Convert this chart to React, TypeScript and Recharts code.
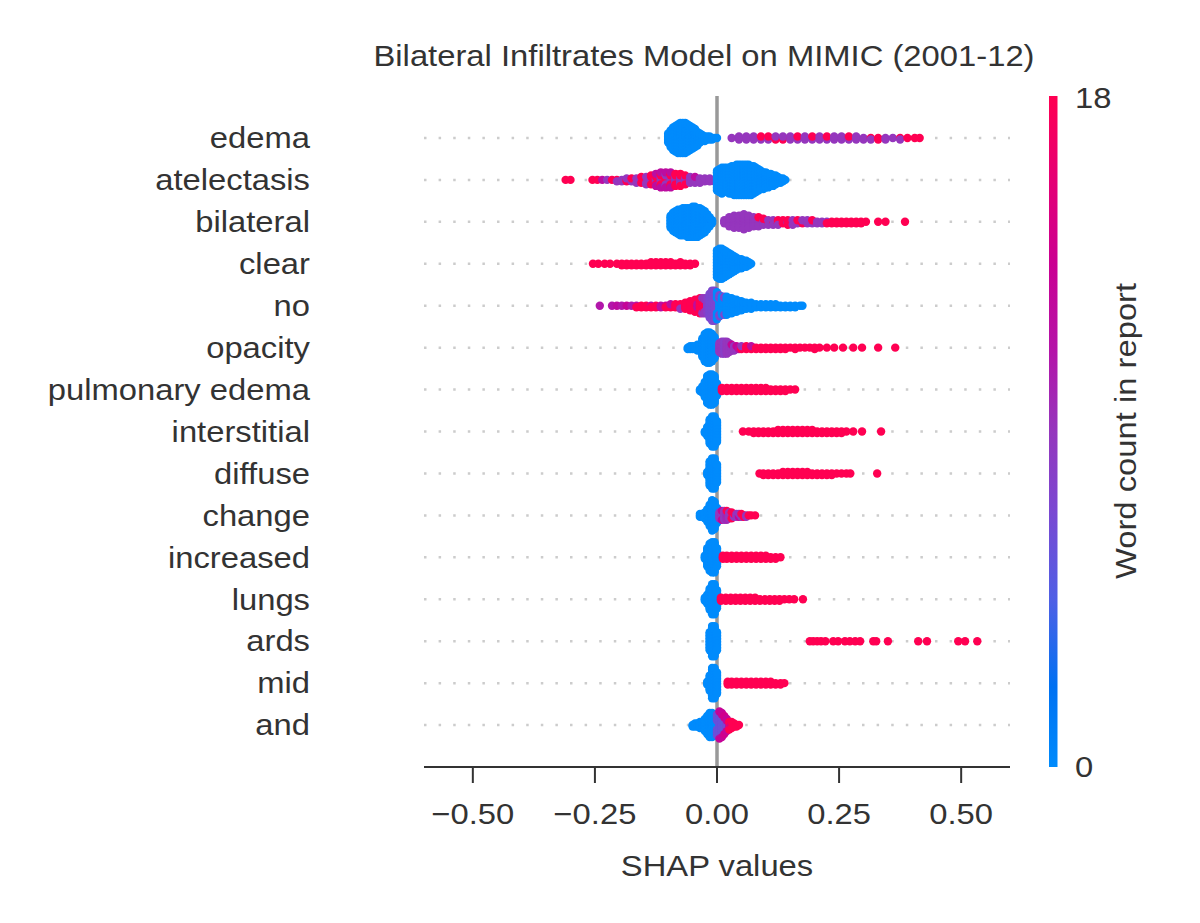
import React from 'react'
import { ScatterChart, Scatter, XAxis, YAxis, ReferenceLine } from 'recharts'

// [SHAP value, dots stacked in that bin, word count in report]
type Bin = [number, number, number]

const features = [
  'edema', 'atelectasis', 'bilateral', 'clear', 'no', 'opacity', 'pulmonary edema',
  'interstitial', 'diffuse', 'change', 'increased', 'lungs', 'ards', 'mid', 'and',
]
const xTicks = [-0.5, -0.25, 0, 0.25, 0.5]
const rowTicks = features.map((_, i) => i)

const edema: Bin[] = [
  [-0.1, 7, 0], [-0.095, 12, 0], [-0.09, 16, 0], [-0.085, 18, 0], [-0.08, 20, 0], [-0.075, 21, 0],
  [-0.07, 21, 0], [-0.065, 21, 0], [-0.06, 19, 0], [-0.055, 17, 0], [-0.05, 15, 0], [-0.045, 13, 0],
  [-0.04, 10, 0], [-0.035, 7, 0], [-0.03, 5, 0], [-0.025, 4, 0], [-0.02, 3, 0], [-0.015, 3, 0],
  [-0.01, 2, 0], [-0.005, 1, 0], [0.0, 1, 0],
  [0.03, 1, 9], [0.045, 3, 9], [0.06, 3, 9], [0.075, 3, 9], [0.09, 2, 9], [0.09, 1, 18],
  [0.105, 2, 9], [0.105, 1, 18], [0.12, 2, 18], [0.12, 1, 9], [0.135, 2, 18], [0.135, 1, 9],
  [0.15, 1, 18], [0.15, 2, 9], [0.165, 2, 9], [0.165, 1, 18], [0.18, 3, 9], [0.195, 2, 9],
  [0.195, 1, 18], [0.21, 1, 18], [0.21, 2, 9], [0.225, 2, 9], [0.225, 1, 18], [0.24, 3, 9],
  [0.255, 3, 9], [0.27, 2, 9], [0.27, 1, 18], [0.285, 3, 9], [0.3, 2, 9], [0.315, 1, 18],
  [0.315, 1, 9], [0.33, 2, 18], [0.345, 2, 9], [0.36, 1, 9], [0.375, 1, 18], [0.375, 1, 9],
  [0.39, 1, 18], [0.405, 1, 18], [0.415, 1, 18],
]

const atelectasis: Bin[] = [
  [-0.31, 1, 18], [-0.3, 1, 18], [-0.255, 1, 18], [-0.245, 1, 18], [-0.235, 1, 12], [-0.225, 1, 9],
  [-0.215, 1, 18], [-0.205, 1, 18], [-0.205, 1, 9], [-0.195, 2, 9], [-0.185, 2, 18], [-0.185, 1, 9],
  [-0.175, 2, 9], [-0.175, 1, 18], [-0.165, 2, 18], [-0.165, 2, 9], [-0.155, 3, 9], [-0.155, 2, 18],
  [-0.145, 3, 18], [-0.145, 3, 9], [-0.135, 4, 9], [-0.135, 3, 18], [-0.125, 4, 9], [-0.125, 3, 18],
  [-0.125, 2, 12], [-0.115, 5, 9], [-0.115, 4, 18], [-0.115, 2, 12], [-0.105, 5, 18], [-0.105, 4, 9],
  [-0.105, 2, 12], [-0.095, 5, 9], [-0.095, 4, 18], [-0.095, 2, 12], [-0.085, 5, 9], [-0.085, 4, 18],
  [-0.075, 6, 9], [-0.075, 3, 18], [-0.065, 5, 9], [-0.065, 2, 18], [-0.055, 5, 9], [-0.045, 4, 9],
  [-0.045, 1, 12], [-0.035, 4, 9], [-0.025, 3, 9], [-0.015, 3, 9], [-0.005, 2, 9],
  [0.0, 14, 0], [0.005, 16, 0], [0.01, 18, 0], [0.015, 17, 0], [0.02, 17, 0], [0.025, 18, 0],
  [0.03, 19, 0], [0.035, 20, 0], [0.04, 21, 0], [0.045, 21, 0], [0.05, 21, 0], [0.055, 21, 0],
  [0.06, 21, 0], [0.065, 21, 0], [0.07, 20, 0], [0.075, 19, 0], [0.08, 17, 0], [0.085, 15, 0],
  [0.09, 13, 0], [0.095, 12, 0], [0.1, 11, 0], [0.105, 10, 0], [0.11, 9, 0], [0.115, 8, 0],
  [0.12, 7, 0], [0.125, 5, 0], [0.13, 4, 0], [0.135, 3, 0], [0.14, 1, 0],
]

const bilateral: Bin[] = [
  [-0.095, 9, 0], [-0.09, 13, 0], [-0.085, 15, 0], [-0.08, 17, 0], [-0.075, 18, 0], [-0.07, 19, 0],
  [-0.065, 19, 0], [-0.06, 20, 0], [-0.055, 20, 0], [-0.05, 21, 0], [-0.045, 21, 0], [-0.04, 20, 0],
  [-0.035, 19, 0], [-0.03, 17, 0], [-0.025, 15, 0], [-0.02, 11, 0], [-0.015, 7, 0], [-0.01, 3, 0],
  [0.015, 3, 9], [0.025, 7, 9], [0.035, 9, 9], [0.045, 9, 9], [0.055, 11, 9], [0.065, 9, 9],
  [0.075, 7, 9], [0.085, 6, 9], [0.085, 1, 18], [0.095, 4, 9], [0.095, 1, 18], [0.105, 2, 18],
  [0.105, 2, 9], [0.115, 2, 18], [0.115, 2, 9], [0.125, 3, 18], [0.125, 1, 9], [0.135, 3, 18],
  [0.145, 2, 9], [0.145, 2, 18], [0.155, 2, 18], [0.155, 2, 9], [0.165, 2, 9], [0.165, 1, 18],
  [0.175, 2, 18], [0.175, 1, 9], [0.185, 3, 9], [0.195, 2, 9], [0.195, 1, 18], [0.205, 2, 9],
  [0.215, 2, 9], [0.225, 1, 9], [0.225, 1, 18], [0.235, 2, 18], [0.245, 2, 18], [0.255, 2, 18],
  [0.265, 2, 18], [0.275, 2, 18], [0.285, 2, 18], [0.295, 2, 18], [0.305, 1, 18], [0.33, 1, 18],
  [0.345, 1, 18], [0.385, 1, 18],
]

const clear: Bin[] = [
  [-0.254, 1, 18], [-0.243, 1, 18], [-0.23, 1, 18], [-0.219, 1, 18], [-0.205, 1, 18], [-0.195, 2, 18],
  [-0.185, 2, 18], [-0.175, 2, 18], [-0.165, 2, 18], [-0.155, 2, 18], [-0.145, 2, 18], [-0.135, 3, 18],
  [-0.125, 3, 18], [-0.115, 3, 18], [-0.105, 3, 18], [-0.095, 3, 18], [-0.085, 2, 18], [-0.075, 3, 18],
  [-0.065, 2, 18], [-0.055, 2, 18], [-0.045, 1, 18],
  [0.0, 19, 0], [0.005, 21, 0], [0.01, 21, 0], [0.015, 19, 0], [0.02, 17, 0], [0.025, 15, 0],
  [0.03, 13, 0], [0.035, 11, 0], [0.04, 9, 0], [0.045, 7, 0], [0.05, 7, 0], [0.055, 5, 0],
  [0.06, 5, 0], [0.065, 3, 0], [0.07, 1, 0],
]

const no: Bin[] = [
  [-0.24, 1, 11], [-0.215, 1, 11], [-0.205, 1, 12], [-0.195, 1, 11], [-0.185, 1, 13], [-0.175, 1, 11],
  [-0.165, 1, 12], [-0.165, 1, 18], [-0.155, 2, 18], [-0.145, 2, 18], [-0.135, 1, 12], [-0.135, 1, 18],
  [-0.125, 2, 18], [-0.115, 2, 12], [-0.105, 1, 14], [-0.105, 1, 18], [-0.095, 2, 18], [-0.095, 1, 12],
  [-0.085, 3, 18], [-0.075, 3, 18], [-0.075, 1, 9], [-0.065, 5, 18], [-0.055, 7, 18], [-0.045, 9, 18],
  [-0.04, 3, 12], [-0.035, 11, 18], [-0.03, 9, 18], [-0.03, 2, 9], [-0.025, 7, 18], [-0.025, 4, 9],
  [-0.02, 11, 8], [-0.015, 17, 7], [-0.01, 21, 7], [-0.005, 21, 7], [0.0, 9, 7], [0.0, 10, 0],
  [0.005, 10, 0], [0.005, 5, 7], [0.01, 13, 0], [0.015, 10, 0], [0.015, 3, 7], [0.02, 13, 0],
  [0.025, 11, 0], [0.03, 11, 0], [0.035, 9, 0], [0.04, 9, 0], [0.045, 7, 0], [0.05, 7, 0],
  [0.055, 5, 0], [0.06, 5, 0], [0.07, 5, 0], [0.08, 3, 0], [0.09, 3, 0], [0.1, 3, 0], [0.11, 3, 0],
  [0.12, 3, 0], [0.13, 2, 0], [0.14, 2, 0], [0.15, 2, 0], [0.16, 2, 0], [0.17, 1, 0], [0.175, 1, 0],
]

const opacity: Bin[] = [
  [-0.06, 2, 0], [-0.055, 3, 0], [-0.05, 3, 0], [-0.045, 3, 0], [-0.04, 5, 0], [-0.035, 5, 0],
  [-0.03, 13, 0], [-0.025, 19, 0], [-0.02, 21, 0], [-0.015, 21, 0], [-0.01, 19, 0], [-0.005, 15, 0],
  [0.0, 7, 0],
  [0.005, 7, 9], [0.01, 9, 9], [0.015, 9, 8], [0.02, 9, 9], [0.025, 7, 9], [0.03, 4, 9], [0.03, 1, 13],
  [0.035, 4, 9], [0.04, 2, 9], [0.04, 1, 13], [0.045, 2, 12], [0.05, 2, 18], [0.05, 1, 9],
  [0.06, 3, 18], [0.07, 2, 18], [0.07, 1, 12], [0.08, 2, 18], [0.09, 2, 18], [0.1, 2, 18],
  [0.11, 2, 18], [0.12, 2, 18], [0.13, 2, 18], [0.14, 2, 18], [0.15, 1, 18], [0.16, 2, 18],
  [0.17, 1, 18], [0.18, 1, 18], [0.19, 1, 18], [0.2, 2, 18], [0.21, 1, 18], [0.225, 1, 18],
  [0.24, 1, 18], [0.258, 1, 18], [0.279, 1, 18], [0.297, 1, 18], [0.33, 1, 18], [0.365, 1, 18],
]

const pulmonaryEdema: Bin[] = [
  [-0.035, 2, 0], [-0.03, 5, 0], [-0.025, 11, 0], [-0.02, 19, 0], [-0.015, 21, 0], [-0.01, 21, 0],
  [-0.005, 19, 0], [0.0, 9, 0],
  [0.01, 3, 18], [0.02, 3, 18], [0.03, 3, 18], [0.04, 3, 18], [0.05, 3, 18], [0.06, 3, 18],
  [0.07, 3, 18], [0.08, 3, 18], [0.09, 3, 18], [0.1, 3, 18], [0.11, 2, 18], [0.12, 2, 18],
  [0.13, 2, 18], [0.14, 2, 18], [0.15, 1, 18], [0.16, 1, 18],
]

const interstitial: Bin[] = [
  [-0.025, 2, 0], [-0.02, 7, 0], [-0.015, 17, 0], [-0.01, 21, 0], [-0.005, 21, 0], [0.0, 15, 0],
  [0.053, 1, 18], [0.065, 1, 18], [0.075, 2, 18], [0.085, 2, 18], [0.095, 2, 18], [0.105, 2, 18],
  [0.115, 2, 18], [0.125, 3, 18], [0.135, 3, 18], [0.145, 3, 18], [0.155, 3, 18], [0.165, 3, 18],
  [0.175, 3, 18], [0.185, 3, 18], [0.195, 3, 18], [0.205, 2, 18], [0.215, 2, 18], [0.225, 2, 18],
  [0.235, 2, 18], [0.245, 2, 18], [0.255, 2, 18], [0.265, 1, 18], [0.279, 1, 18], [0.297, 1, 18],
  [0.336, 1, 18],
]

const diffuse: Bin[] = [
  [-0.02, 3, 0], [-0.015, 17, 0], [-0.01, 21, 0], [-0.005, 21, 0], [0.0, 13, 0],
  [0.087, 1, 18], [0.095, 2, 18], [0.105, 2, 18], [0.115, 2, 18], [0.125, 2, 18], [0.135, 3, 18],
  [0.145, 3, 18], [0.155, 3, 18], [0.165, 3, 18], [0.175, 3, 18], [0.185, 3, 18], [0.195, 2, 18],
  [0.205, 2, 18], [0.215, 2, 18], [0.225, 2, 18], [0.235, 2, 18], [0.245, 1, 18], [0.255, 1, 18],
  [0.265, 1, 18], [0.273, 1, 18], [0.328, 1, 18],
]

const change: Bin[] = [
  [-0.035, 3, 0], [-0.03, 3, 0], [-0.025, 5, 0], [-0.02, 9, 0], [-0.015, 15, 0], [-0.01, 21, 0],
  [-0.005, 19, 0], [0.0, 11, 0],
  [0.005, 5, 9], [0.01, 5, 9], [0.01, 2, 13], [0.015, 7, 9], [0.02, 6, 10], [0.02, 1, 18],
  [0.025, 5, 9], [0.03, 3, 9], [0.03, 2, 18], [0.035, 2, 9], [0.035, 1, 18], [0.04, 3, 9],
  [0.045, 2, 13], [0.045, 1, 9], [0.05, 2, 9], [0.05, 1, 18], [0.055, 2, 18], [0.06, 2, 9],
  [0.065, 1, 18], [0.07, 1, 18], [0.078, 1, 18],
]

const increased: Bin[] = [
  [-0.025, 3, 0], [-0.02, 13, 0], [-0.015, 19, 0], [-0.01, 21, 0], [-0.005, 21, 0], [0.0, 13, 0],
  [0.012, 3, 18], [0.02, 3, 18], [0.03, 3, 18], [0.04, 3, 18], [0.05, 3, 18], [0.06, 3, 18],
  [0.07, 3, 18], [0.08, 3, 18], [0.09, 3, 18], [0.1, 3, 18], [0.11, 2, 18], [0.12, 2, 18],
  [0.13, 1, 18],
]

const lungs: Bin[] = [
  [-0.025, 3, 0], [-0.02, 7, 0], [-0.015, 15, 0], [-0.01, 21, 0], [-0.005, 21, 0], [0.0, 13, 0],
  [0.008, 3, 18], [0.018, 3, 18], [0.028, 3, 18], [0.038, 3, 18], [0.048, 3, 18], [0.058, 3, 18],
  [0.068, 3, 18], [0.078, 3, 18], [0.088, 2, 18], [0.098, 2, 18], [0.108, 2, 18], [0.118, 2, 18],
  [0.128, 2, 18], [0.138, 1, 18], [0.148, 1, 18], [0.158, 1, 18], [0.176, 1, 18],
]

const ards: Bin[] = [
  [-0.015, 13, 0], [-0.01, 21, 0], [-0.005, 21, 0], [0.0, 13, 0],
  [0.19, 1, 18], [0.197, 1, 18], [0.205, 1, 18], [0.213, 1, 18], [0.222, 1, 18], [0.238, 1, 18],
  [0.248, 1, 18], [0.262, 1, 18], [0.272, 1, 18], [0.283, 1, 18], [0.293, 1, 18], [0.32, 1, 18],
  [0.326, 1, 18], [0.35, 1, 18], [0.412, 1, 18], [0.43, 1, 18], [0.494, 1, 18], [0.508, 1, 18],
  [0.533, 1, 18],
]

const mid: Bin[] = [
  [-0.02, 3, 0], [-0.015, 11, 0], [-0.01, 21, 0], [-0.005, 21, 0], [0.0, 15, 0],
  [0.022, 3, 18], [0.03, 3, 18], [0.04, 3, 18], [0.05, 3, 18], [0.06, 3, 18], [0.07, 3, 18],
  [0.08, 3, 18], [0.09, 3, 18], [0.1, 3, 18], [0.11, 3, 18], [0.12, 2, 18], [0.13, 2, 18],
  [0.138, 1, 18],
]

const and: Bin[] = [
  [-0.05, 2, 0], [-0.045, 3, 0], [-0.04, 3, 0], [-0.035, 5, 0], [-0.03, 5, 0], [-0.025, 9, 0],
  [-0.02, 13, 0], [-0.015, 17, 0], [-0.01, 17, 0], [-0.005, 15, 0], [0.0, 5, 0], [0.0, 10, 6],
  [0.005, 17, 6], [0.005, 2, 13], [0.01, 14, 6], [0.01, 3, 13], [0.015, 10, 6], [0.015, 3, 14],
  [0.02, 6, 7], [0.02, 3, 13], [0.025, 4, 12], [0.025, 2, 18], [0.03, 3, 14], [0.03, 2, 18],
  [0.035, 3, 18], [0.04, 2, 18], [0.045, 1, 18],
]

const rows = [
  edema, atelectasis, bilateral, clear, no, opacity, pulmonaryEdema,
  interstitial, diffuse, change, increased, lungs, ards, mid, and,
]

// beeswarm: dots sharing a bin are stacked alternately above / below the row
const LAYER = 0.036
const points = rows.flatMap((bins, r) => {
  const used = new Map<number, number>()
  const out: { x: number; y: number; c: number }[] = []
  for (const [x, n, c] of bins) {
    for (let k = 0; k < n; k++) {
      const j = used.get(x) ?? 0
      used.set(x, j + 1)
      const layer = Math.ceil(j / 2) * (j % 2 ? 1 : -1)
      out.push({ x, y: r + layer * LAYER, c })
    }
  }
  return out
})

const MAX_COUNT = 18
const STOPS: [number, number[]][] = [
  [0, [0, 139, 252]],
  [0.12, [0, 113, 242]],
  [0.25, [79, 95, 229]],
  [0.38, [122, 72, 210]],
  [0.5, [149, 54, 189]],
  [0.62, [180, 20, 168]],
  [0.75, [202, 0, 146]],
  [0.87, [228, 0, 118]],
  [1, [255, 0, 82]],
]

function colorAt(t: number) {
  for (let i = 1; i < STOPS.length; i++) {
    const [t1, c1] = STOPS[i]
    const [t0, c0] = STOPS[i - 1]
    if (t <= t1) {
      const f = (t - t0) / (t1 - t0)
      const rgb = c0.map((v, k) => Math.round(v + (c1[k] - v) * f))
      return `rgb(${rgb.join(',')})`
    }
  }
  return 'rgb(255,0,82)'
}

const FONT = '"Liberation Sans", Arial, sans-serif'
const SX = 1.13
const TEXT = '#333333'

const fmt = (v: number) => (v < 0 ? '\u2212' : '') + Math.abs(v).toFixed(2)

const XTick = (p: any) => (
  <g transform={`translate(${p.x},${p.y})`}>
    <text transform={`scale(${SX},1)`} textAnchor="middle" dy="0.71em" fontSize={29} fill={TEXT} fontFamily={FONT}>
      {fmt(p.payload.value)}
    </text>
  </g>
)

const YTick = (p: any) => (
  <g transform={`translate(${p.x},${p.y})`}>
    <text transform={`scale(${SX},1)`} textAnchor="end" dy="0.355em" fontSize={29} fill={TEXT} fontFamily={FONT}>
      {features[p.payload.value]}
    </text>
  </g>
)

const Dot = (p: any) => <circle cx={p.cx} cy={p.cy} r={4.2} fill={colorAt(p.payload.c / MAX_COUNT)} />

function Words({ x, y, anchor = 'middle', rotate = 0, children }: any) {
  return (
    <text
      transform={`translate(${x},${y}) rotate(${rotate}) scale(${SX},1)`}
      textAnchor={anchor}
      fontSize={29}
      fill={TEXT}
      fontFamily={FONT}
    >
      {children}
    </text>
  )
}

export default function App() {
  return (
    <div style={{ position: 'absolute', left: 0, top: 0, width: 1200, height: 923, background: '#fff' }}>
      <ScatterChart width={1200} height={923} margin={{ top: 96, right: 190, bottom: 96, left: 0 }}>
        {rowTicks.map((i) => (
          <ReferenceLine key={i} y={i} stroke="#cccccc" strokeWidth={2.5} strokeDasharray="2.5 12.1" />
        ))}
        <ReferenceLine x={0} stroke="#999999" strokeWidth={3.5} />
        <XAxis
          type="number"
          dataKey="x"
          domain={[-0.6, 0.6]}
          ticks={xTicks}
          allowDataOverflow
          height={60}
          tickSize={16}
          tickMargin={20}
          axisLine={{ stroke: '#333333', strokeWidth: 2 }}
          tickLine={{ stroke: '#333333', strokeWidth: 2 }}
          tick={<XTick />}
        />
        <YAxis
          type="number"
          dataKey="y"
          domain={[-1, 15]}
          reversed
          ticks={rowTicks}
          interval={0}
          allowDataOverflow
          width={424}
          tickSize={0}
          tickMargin={114}
          axisLine={false}
          tickLine={false}
          tick={<YTick />}
        />
        <Scatter data={points} shape={Dot} isAnimationActive={false} />
      </ScatterChart>
      <svg width={1200} height={923} style={{ position: 'absolute', left: 0, top: 0, pointerEvents: 'none' }}>
        <defs>
          <linearGradient id="wordCount" x1="0" y1="1" x2="0" y2="0">
            {STOPS.map(([t, c]) => (
              <stop key={t} offset={t} stopColor={`rgb(${c.join(',')})`} />
            ))}
          </linearGradient>
        </defs>
        <Words x={704} y={66}>Bilateral Infiltrates Model on MIMIC (2001-12)</Words>
        <Words x={717} y={876}>SHAP values</Words>
        <rect x={1049} y={96} width={8.5} height={671} fill="url(#wordCount)" />
        <Words x={1075} y={108} anchor="start">18</Words>
        <Words x={1075} y={777} anchor="start">0</Words>
        <Words x={1136} y={431} rotate={-90}>Word count in report</Words>
      </svg>
    </div>
  )
}
